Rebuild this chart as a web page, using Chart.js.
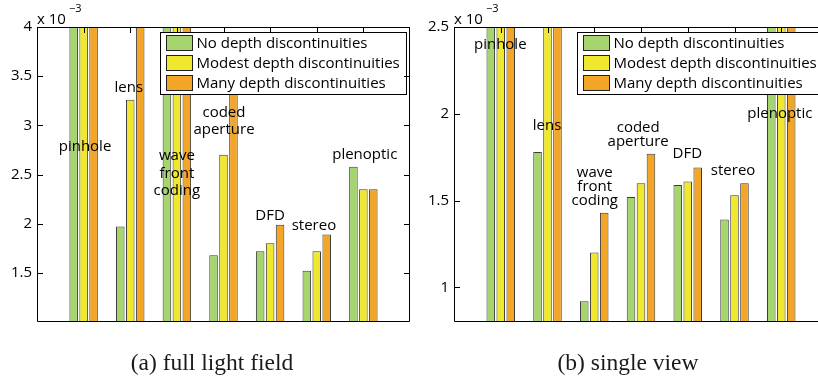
<!DOCTYPE html>
<html>
<head>
<meta charset="utf-8">
<script src="https://cdn.jsdelivr.net/npm/chart.js@4.4.0/dist/chart.umd.min.js"></script>
<style>
html, body { margin:0; padding:0; background:#fff; overflow:hidden; }
#wrap { position:relative; width:818px; height:379px; overflow:hidden; }
canvas { position:absolute; left:0; top:0; }
.cap { position:absolute; top:350px; line-height:24px; font-family:"Liberation Serif", serif; font-size:23.5px; color:#1a1a1a; white-space:nowrap; transform:translateX(-50%); }
</style>
</head>
<body>
<div id="wrap">
<canvas id="full" width="840" height="379"></canvas>
<canvas id="single" width="840" height="379"></canvas>
<div class="cap" style="left:212px">(a) full light field</div>
<div class="cap" style="left:628px">(b) single view</div>
</div>
<script>
// methods, x = 1..7
const methods = ['pinhole', 'lens', 'wave front coding', 'coded aperture', 'DFD', 'stereo', 'plenoptic'];
const seriesNames = ['No depth discontinuities', 'Modest depth discontinuities', 'Many depth discontinuities'];
const seriesColors = ['#a6d46f', '#f0e82e', '#f2a526'];

// (a) full light field  (x 10^-3)
const fullNone   = [4.6, 1.97, 4.4, 1.68, 1.72, 1.52, 2.58];
const fullModest = [4.7, 3.26, 4.5, 2.70, 1.80, 1.72, 2.35];
const fullMany   = [4.8, 4.3, 4.6, 3.6, 1.99, 1.89, 2.35];
const fullTicks  = [1.5, 2, 2.5, 3, 3.5, 4];

// (b) single view  (x 10^-3)
const viewNone   = [2.9, 1.78, 0.92, 1.52, 1.59, 1.39, 2.6];
const viewModest = [3.0, 2.9, 1.20, 1.60, 1.61, 1.53, 2.7];
const viewMany   = [3.1, 3.0, 1.43, 1.77, 1.69, 1.60, 2.7];
const viewTicks  = [1, 1.5, 2, 2.5];

// where the method names sit (x in method units, y in data units)
const fullLabelPos = [[1.03, 2.78], [1.97, 3.38], [3.0, 2.69], [4.01, 3.13], [5.0, 2.08], [5.94, 1.98], [7.03, 2.70]];
const viewLabelPos = [[0.99, 2.40], [1.99, 1.93], [3.01, 1.66], [3.94, 1.92], [4.99, 1.77], [5.97, 1.67], [6.97, 2.0]];

const SANS = '"Open Sans", sans-serif';

const decor = {
	id: 'decor',
	afterDatasetsDraw(chart, args, opts) {
		const ctx = chart.ctx;
		const a = chart.chartArea;
		const x = chart.scales.x, y = chart.scales.y;
		ctx.save();

		// method names
		ctx.fillStyle = '#000';
		ctx.font = '15px ' + SANS;
		ctx.textAlign = 'center';
		ctx.textBaseline = 'middle';
		methods.forEach(function(m, i) {
			var p = opts.labelPos[i];
			m.split(' ').forEach(function(w, k) {
				ctx.fillText(w, x.getPixelForValue(p[0]), y.getPixelForValue(p[1]) + k * opts.lineGap);
			});
		});

		// legend box
		var L = Math.round(a.left + 122.5) + 0.5, T = 32.5;
		ctx.fillStyle = '#fff';
		ctx.fillRect(L, T, opts.legendW, 62);
		ctx.strokeStyle = '#000';
		ctx.lineWidth = 1;
		ctx.strokeRect(L, T, opts.legendW, 62);
		ctx.textAlign = 'left';
		for (var k = 0; k < 3; k++) {
			ctx.fillStyle = seriesColors[k];
			ctx.fillRect(L + 6, T + 3 + k * 20, 26, 15);
			ctx.strokeStyle = '#222';
			ctx.strokeRect(L + 6, T + 3 + k * 20, 26, 15);
			ctx.fillStyle = '#000';
			ctx.fillText(seriesNames[k], L + 36, T + 11 + k * 20);
		}

		// axes box + inward ticks
		ctx.strokeStyle = '#000';
		ctx.beginPath();
		ctx.moveTo(a.left + 0.5, a.top + 0.5);
		ctx.lineTo(a.right - 0.5, a.top + 0.5);
		ctx.lineTo(a.right - 0.5, a.bottom - 0.5);
		ctx.lineTo(a.left + 0.5, a.bottom - 0.5);
		ctx.closePath();
		opts.ticks.forEach(function(v) {
			var py = Math.round(y.getPixelForValue(v)) + 0.5;
			ctx.moveTo(a.left, py); ctx.lineTo(a.left + 6, py);
			ctx.moveTo(a.right, py); ctx.lineTo(a.right - 6, py);
		});
		for (var i = 1; i <= methods.length; i++) {
			var px = Math.round(x.getPixelForValue(i)) + 0.5;
			ctx.moveTo(px, a.top); ctx.lineTo(px, a.top + 6);
		}
		ctx.stroke();

		// exponent
		ctx.fillStyle = '#000';
		ctx.textBaseline = 'alphabetic';
		ctx.font = '15px ' + SANS;
		ctx.fillText('x 10', a.left, a.top - 3);
		var w = ctx.measureText('x 10').width;
		ctx.font = '11px ' + SANS;
		ctx.fillText('\u22123', a.left + w + 3, a.top - 15);
		ctx.restore();
	}
};

function barChart(id, lists, yMin, yMax, tickVals, labelPos, lineGap, yWidth, rightPad, legendW) {
	var datasets = [];
	for (var k = 0; k < lists.length; k++) {
		datasets.push({
			label: seriesNames[k],
			data: lists[k].map(function(v, i) { return {x: i + 1, y: v}; }),
			backgroundColor: seriesColors[k],
			borderColor: '#3c3c3c',
			borderWidth: 1,
			categoryPercentage: 0.64,
			barPercentage: 0.86
		});
	}
	const ctx = document.getElementById(id).getContext('2d');
	return new Chart(ctx, {
		type: 'bar',
		data: { datasets: datasets },
		plugins: [decor],
		options: {
			responsive: false,
			animation: false,
			devicePixelRatio: 1,
			layout: { padding: { left: 0, right: rightPad, top: 27, bottom: 0 } },
			plugins: {
				legend: { display: false },
				tooltip: { enabled: false },
				decor: { labelPos: labelPos, lineGap: lineGap, ticks: tickVals, legendW: legendW }
			},
			scales: {
				x: {
					type: 'linear', min: 0, max: 8, offset: false,
					grid: { display: false, drawTicks: false },
					border: { display: false },
					ticks: { display: false },
					afterFit: function(s) { s.height = 57; }
				},
				y: {
					type: 'linear', min: yMin, max: yMax, beginAtZero: false,
					grid: { display: false, drawTicks: false },
					border: { display: false },
					ticks: { color: '#000', padding: 5, font: { family: SANS, size: 15 }, callback: function(v) { return String(v); } },
					afterBuildTicks: function(s) { s.ticks = tickVals.map(function(v) { return {value: v}; }); },
					afterFit: function(s) { s.width = yWidth; }
				}
			}
		}
	});
}

barChart('full', [fullNone, fullModest, fullMany], 1, 4, fullTicks, fullLabelPos, 17.5, 37, 430, 246);
barChart('single', [viewNone, viewModest, viewMany], 0.8, 2.5, viewTicks, viewLabelPos, 14, 454, 12, 241);
</script>
</body>
</html>
